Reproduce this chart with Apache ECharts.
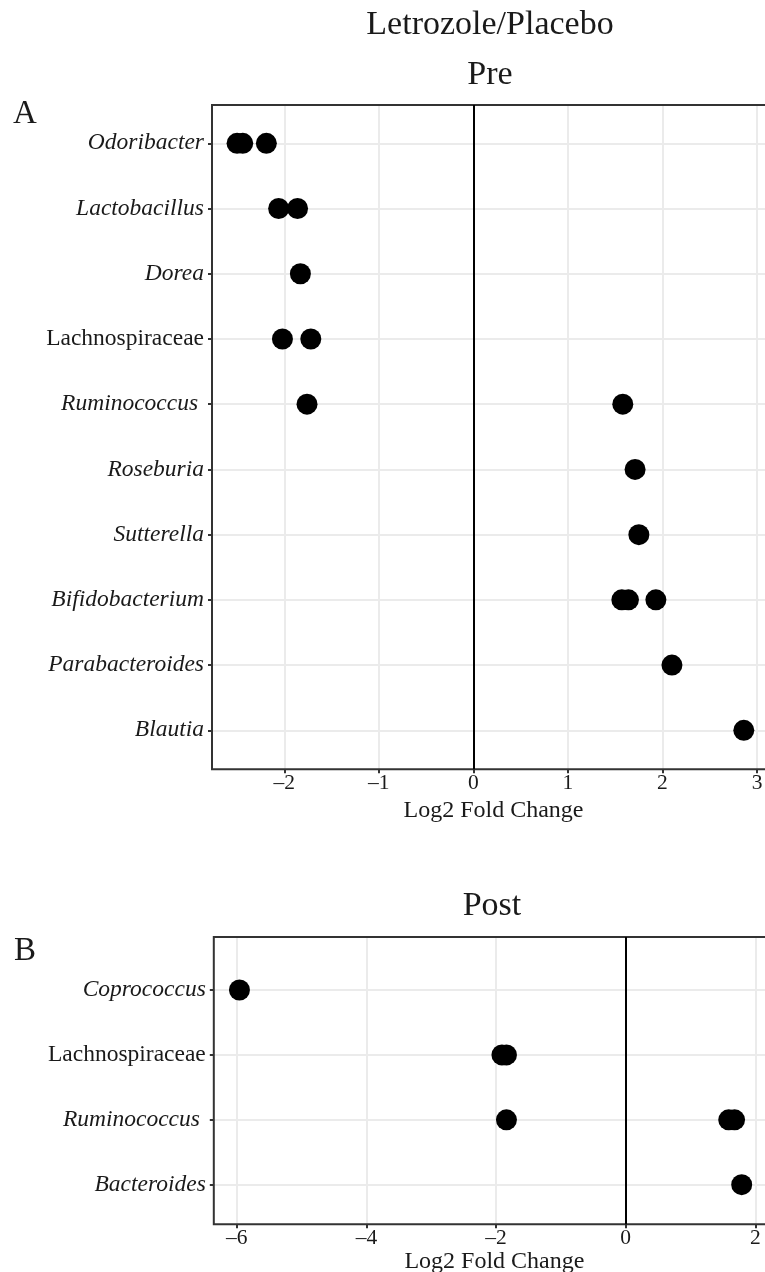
<!DOCTYPE html>
<html>
<head>
<meta charset="utf-8">
<script src="https://cdn.jsdelivr.net/npm/echarts@6/dist/echarts.min.js"></script>
<style>
html,body{margin:0;padding:0;background:#fff;}
#chart{width:765px;height:1272px;}
</style>
</head>
<body>
<div id="chart"></div>
<script>
// ---- Data ----
const mainTitle = 'Letrozole/Placebo';
const preTitle = 'Pre';
const postTitle = 'Post';
const xAxisTitle = 'Log2 Fold Change';

const preCategories = ['Odoribacter', 'Lactobacillus', 'Dorea', 'Lachnospiraceae', 'Ruminococcus ',
  'Roseburia', 'Sutterella', 'Bifidobacterium', 'Parabacteroides', 'Blautia'];
const preLog2FC = [
  [-2.50, -2.44, -2.19],
  [-2.06, -1.86],
  [-1.83],
  [-2.02, -1.72],
  [-1.76, 1.58],
  [1.71],
  [1.75],
  [1.57, 1.64, 1.93],
  [2.10],
  [2.86]
];

const postCategories = ['Coprococcus', 'Lachnospiraceae', 'Ruminococcus ', 'Bacteroides'];
const postLog2FC = [
  [-5.96],
  [-1.91, -1.84],
  [-1.84, 1.59, 1.68],
  [1.79]
];

const uprightLabels = ['Lachnospiraceae'];

// ---- Build ----
const FONT = 'Liberation Serif';
const GRID_COLOR = '#ebebeb';
const DARK = '#333333';
const TEXT = '#1a1a1a';

function toPoints(cats, vals) {
  const out = [];
  cats.forEach((c, i) => vals[i].forEach(v => out.push([v, c])));
  return out;
}
function fmtNum(v) {
  return v < 0 ? '\u2013' + Math.abs(v) : String(v);
}

const yLabel = {
  fontFamily: FONT, fontSize: 23.5, color: TEXT, margin: 8,
  formatter: v => (uprightLabels.includes(v.trim()) ? '{n|' + v + '}' : '{i|' + v + '}'),
  rich: {
    i: { fontFamily: FONT, fontSize: 23.5, fontStyle: 'italic', color: TEXT },
    n: { fontFamily: FONT, fontSize: 23.5, color: TEXT }
  }
};

// pixel layout of panels
const A = { left: 212, width: 563, frameTop: 105, frameH: 664.3, dataTop: 143.3, dataH: 587, min: -2.765, max: 3.19 };
const B = { left: 213.8, width: 561.2, frameTop: 937, frameH: 287.3, dataTop: 990, dataH: 194.7, min: -6.356, max: 2.304 };

function frameX(p, gi) {
  return {
    type: 'value', gridIndex: gi, min: p.min, max: p.max,
    axisLine: { show: false, onZero: false },
    axisTick: { show: true, length: 4, lineStyle: { color: DARK, width: 2 } },
    axisLabel: { fontFamily: FONT, fontSize: 21.5, color: TEXT, margin: 3, formatter: fmtNum,
                 showMinLabel: false, showMaxLabel: false },
    splitLine: { show: true, showMinLine: false, showMaxLine: false, lineStyle: { color: GRID_COLOR, width: 2 } },
    name: xAxisTitle, nameLocation: 'middle', nameGap: 16,
    nameTextStyle: { fontFamily: FONT, fontSize: 24, color: TEXT }
  };
}
function dataX(p, gi) {
  return { type: 'value', gridIndex: gi, min: p.min, max: p.max, show: false,
           axisLine: { onZero: false }, splitLine: { show: false } };
}
function frameY(gi) {
  return { type: 'value', gridIndex: gi, min: 0, max: 1, show: false,
           axisLine: { onZero: false }, splitLine: { show: false } };
}
function dataY(cats, gi) {
  return {
    type: 'category', gridIndex: gi, data: cats, inverse: true, boundaryGap: false,
    axisLine: { show: false, onZero: false },
    axisTick: { show: true, length: 4, lineStyle: { color: DARK, width: 2 } },
    axisLabel: yLabel,
    splitLine: { show: true, lineStyle: { color: GRID_COLOR, width: 2 } }
  };
}
function zeroLineSeries(gi) {
  return {
    type: 'scatter', xAxisIndex: gi, yAxisIndex: gi, data: [], silent: true,
    markLine: {
      silent: true, symbol: ['none', 'none'], label: { show: false },
      lineStyle: { color: '#000', width: 2, type: 'solid' },
      emphasis: { disabled: true },
      animation: false,
      data: [{ xAxis: 0 }]
    }
  };
}
function pointSeries(cats, vals, gi) {
  return {
    type: 'scatter', xAxisIndex: gi, yAxisIndex: gi, clip: false,
    symbol: 'circle', symbolSize: 21,
    itemStyle: { color: '#000', opacity: 1 },
    data: toPoints(cats, vals), z: 5
  };
}

function gridBox(p, framed) {
  const g = framed
    ? { left: p.left, top: p.frameTop, width: p.width, height: p.frameH, show: true, borderColor: DARK, borderWidth: 2, backgroundColor: 'transparent', z: 3 }
    : { left: p.left, top: p.dataTop, width: p.width, height: p.dataH };
  g.containLabel = false;
  g.outerBoundsMode = 'none';
  return g;
}

const option = {
  backgroundColor: '#fff',
  animation: false,
  grid: [gridBox(A, true), gridBox(A, false), gridBox(B, true), gridBox(B, false)],
  xAxis: [frameX(A, 0), dataX(A, 1), frameX(B, 2), dataX(B, 3)],
  yAxis: [frameY(0), dataY(preCategories, 1), frameY(2), dataY(postCategories, 3)],
  series: [
    zeroLineSeries(0),
    pointSeries(preCategories, preLog2FC, 1),
    zeroLineSeries(2),
    pointSeries(postCategories, postLog2FC, 3)
  ],
  graphic: [
    { type: 'text', x: 490, y: 25, style: { text: mainTitle, fontFamily: FONT, fontSize: 34, fill: TEXT, align: 'center', verticalAlign: 'middle' } },
    { type: 'text', x: 490, y: 75, style: { text: preTitle, fontFamily: FONT, fontSize: 34, fill: TEXT, align: 'center', verticalAlign: 'middle' } },
    { type: 'text', x: 492, y: 906, style: { text: postTitle, fontFamily: FONT, fontSize: 34, fill: TEXT, align: 'center', verticalAlign: 'middle' } },
    { type: 'text', x: 25, y: 114, style: { text: 'A', fontFamily: FONT, fontSize: 33, fill: TEXT, align: 'center', verticalAlign: 'middle' } },
    { type: 'text', x: 25, y: 951, style: { text: 'B', fontFamily: FONT, fontSize: 33, fill: TEXT, align: 'center', verticalAlign: 'middle' } }
  ]
};

const chart = echarts.init(document.getElementById('chart'), null, { renderer: 'canvas' });
chart.setOption(option);
</script>
</body>
</html>
